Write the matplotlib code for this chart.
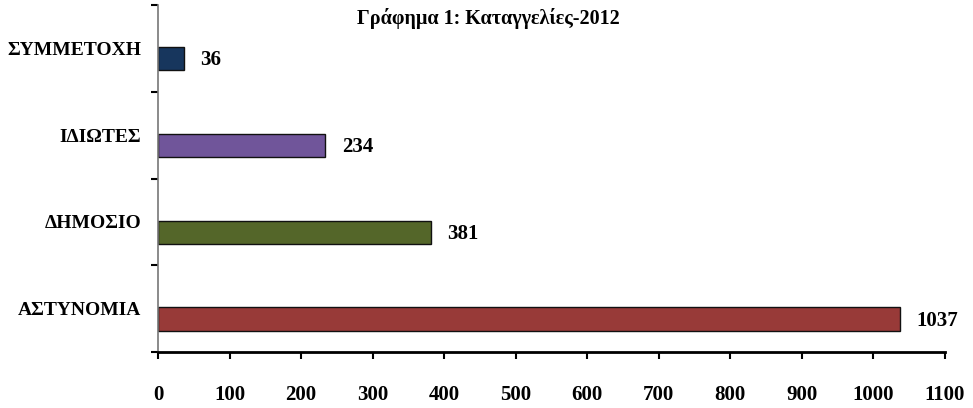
import matplotlib
matplotlib.use("Agg")
import matplotlib.pyplot as plt
import numpy as np

plt.rcParams["font.family"] = ["Liberation Serif", "DejaVu Serif"]

categories = ["ΑΣΤΥΝΟΜΙΑ", "ΔΗΜΟΣΙΟ", "ΙΔΙΩΤΕΣ", "ΣΥΜΜΕΤΟΧΗ"]
values = [1037, 381, 234, 36]
colors = ["#983A38", "#546629", "#70559A", "#17365D"]
title = "Γράφημα 1: Καταγγελίες-2012"

fig = plt.figure(figsize=(9.73, 4.08), dpi=100)
ax = fig.add_axes([0.1624, 0.137, 0.8088, 0.851])

pos = np.arange(len(categories))
ax.barh(pos - 0.12, values, height=0.27, color=colors,
        edgecolor="#111111", linewidth=1.0)

for y, v in zip(pos, values):
    ax.annotate(str(v), (v, y - 0.14), xytext=(12, 0), textcoords="offset points",
                ha="left", va="center", fontsize=15, fontweight="bold")

ax.set_xlim(0, 1100)
ax.set_ylim(-0.5, 3.5)
ax.set_xticks(np.arange(0, 1101, 100))
ax.tick_params(axis="x", length=5, width=1.5, pad=19, labelsize=15)
for lbl in ax.get_xticklabels():
    lbl.set_fontweight("bold")

# tick marks on category boundaries, names in the middle of each band
ax.set_yticks(np.arange(-0.5, 3.6, 1.0))
ax.set_yticklabels([])
ax.tick_params(axis="y", which="major", length=5, width=1.5)
ax.set_yticks(pos, minor=True)
ax.set_yticklabels(categories, minor=True, fontsize=14, fontweight="bold")
ax.tick_params(axis="y", which="minor", length=0, pad=12)

for side in ("top", "right"):
    ax.spines[side].set_visible(False)
ax.spines["left"].set_color("#777777")
ax.spines["left"].set_linewidth(1.2)
ax.spines["bottom"].set_linewidth(2.0)

fig.text(0.502, 0.955, title, ha="center", va="center",
         fontsize=14.5, fontweight="bold")

fig.savefig("out.png", dpi=100)
